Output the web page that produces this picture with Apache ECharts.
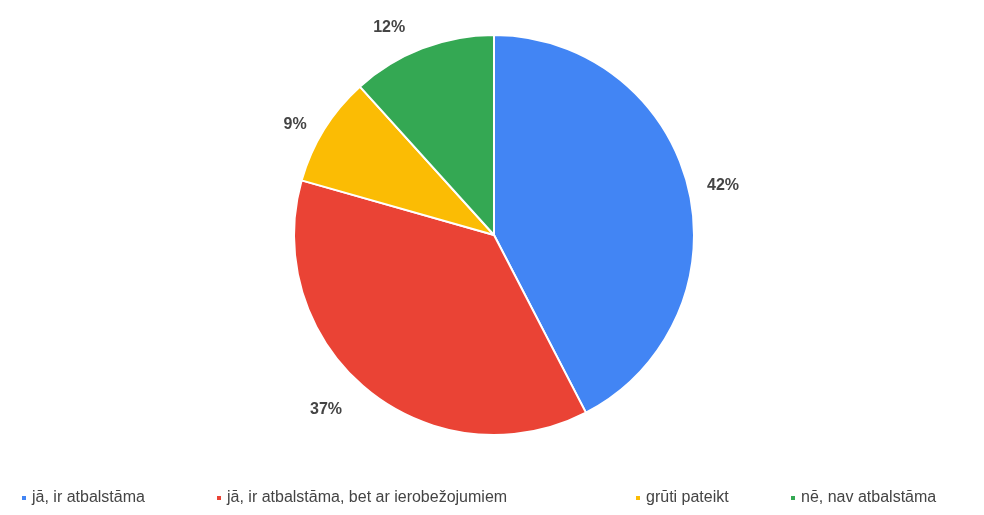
<!DOCTYPE html>
<html>
<head>
<meta charset="utf-8">
<script src="https://cdn.jsdelivr.net/npm/echarts@6/dist/echarts.min.js"></script>
<style>
	html, body { margin: 0; padding: 0; background: #fff; }
	#pie-chart { width: 984px; height: 515px; }
</style>
</head>
<body>
<div id="pie-chart"></div>
<script>
var categories = ['jā, ir atbalstāma', 'jā, ir atbalstāma, bet ar ierobežojumiem', 'grūti pateikt', 'nē, nav atbalstāma'];
var values = [42.4, 37.0, 8.9, 11.7];
var colors = ['#4285f4', '#ea4335', '#fbbc04', '#34a853'];

// layout only: where each legend entry starts, and how far each label sits out
var legendLeft = [15, 210, 629, 784];
var labelLen = [10, 26, 10, 22];

var pieData = categories.map(function(name, i) {
	return {
		name: name,
		value: values[i],
		itemStyle: { color: colors[i] },
		labelLine: { length: labelLen[i] }
	};
});

var legends = categories.map(function(name, i) {
	return {
		bottom: 4,
		left: legendLeft[i],
		icon: 'rect',
		itemWidth: 6,
		itemHeight: 6,
		textStyle: {
			color: '#444',
			fontFamily: 'Liberation Sans, Arial, sans-serif',
			fontSize: 16
		},
		data: [name]
	};
});

var option = {
	animation: false,
	legend: legends,
	series: [{
		type: 'pie',
		center: [494, 235],
		radius: 200,
		startAngle: 90,
		clockwise: true,
		data: pieData,
		itemStyle: {
			borderColor: '#fff',
			borderWidth: 2
		},
		label: {
			position: 'outside',
			color: '#444',
			fontFamily: 'Liberation Sans, Arial, sans-serif',
			fontWeight: 'bold',
			fontSize: 16,
			formatter: function(p) {
				return Math.round(p.percent) + '%';
			}
		},
		labelLine: {
			show: false,
			length: 10,
			length2: 4
		}
	}]
};

var pieChart = echarts.init(document.getElementById('pie-chart'));
pieChart.setOption(option);
</script>
</body>
</html>
